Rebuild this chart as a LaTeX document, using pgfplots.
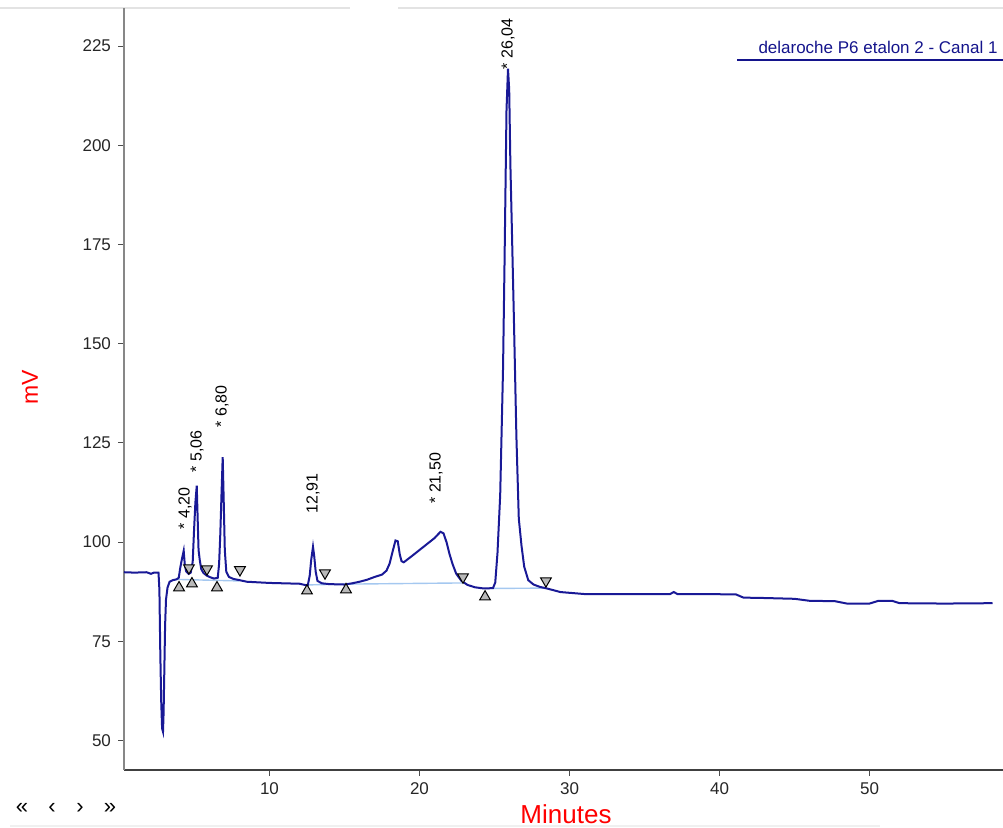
\documentclass[border=0pt]{standalone}
\usepackage{pgfplots}
\pgfplotsset{compat=1.18}
\usepackage{fontspec}
\setmainfont{Liberation Sans}

\definecolor{trace}{RGB}{25,25,150}
\definecolor{basel}{RGB}{165,200,240}
\definecolor{legblue}{RGB}{20,20,140}
\definecolor{axgray}{RGB}{135,135,135}
\newcommand{\lbl}{\fontsize{8}{9}\selectfont}

\begin{document}
\begin{tikzpicture}
\path[use as bounding box] (0,0) rectangle (501.5pt,414pt);
\draw[gray!22, line width=1pt] (0,410pt) -- (175pt,410pt) (199pt,410pt) -- (501.5pt,410pt);
\draw[gray!12, line width=1pt] (5pt,1pt) -- (440pt,1pt);

\begin{axis}[
    at={(62pt,29pt)}, anchor=south west,
    scale only axis, width=439.5pt, height=381pt,
    xmin=0.3, xmax=58.9, ymin=42.56, ymax=234.6,
    axis x line*=bottom, axis y line*=left,
    x axis line style={black!75, line width=0.6pt},
    y axis line style={axgray, line width=0.6pt},
    xtick={10,20,30,40,50},
    ytick={50,75,100,125,150,175,200,225},
    tick align=outside, major tick length=3pt,
    tick style={black!70, line width=0.5pt},
    tick label style={font=\fontsize{8.5}{10}\selectfont, text=black!85},
    /pgf/number format/assume math mode=true,
    clip=false]

% integration baselines
\addplot[basel, line width=0.7pt] coordinates {(3.7,90.6) (8.0,90.2)};
\addplot[basel, line width=0.7pt] coordinates {(12.5,89.2) (15.1,89.4) (22.9,89.7)};
\addplot[basel, line width=0.7pt] coordinates {(24.4,88.3) (28.4,88.4)};

% chromatogram
\addplot[trace, line width=1pt] coordinates {
(0.3,92.4) (1.0,92.3) (1.8,92.4) (2.1,92.0) (2.3,92.3) (2.6,92.3)
(2.66,88.0) (2.72,72.0) (2.78,60.0) (2.84,53.0) (2.9,52.2) (2.94,57.0)
(2.99,68.0) (3.04,79.0) (3.1,85.5) (3.2,88.5) (3.34,90.0) (3.55,90.4)
(3.8,90.6) (3.95,91.0) (4.05,93.5) (4.15,95.5) (4.28,97.8) (4.36,94.0)
(4.45,92.6) (4.6,92.0) (4.75,92.3) (4.88,95.0) (4.97,103.0) (5.06,110.0)
(5.15,114.2) (5.21,106.0) (5.27,98.0) (5.35,95.5) (5.45,93.2) (5.6,92.2)
(5.8,91.6) (6.0,91.2) (6.3,90.8) (6.55,91.0) (6.64,94.5) (6.72,102.0)
(6.8,112.0) (6.88,121.4) (6.95,110.0) (7.02,98.0) (7.12,92.5) (7.3,91.2)
(7.6,90.7) (8.0,90.4) (8.5,90.0) (9.0,89.9) (10.0,89.7) (11.0,89.6)
(12.0,89.5) (12.35,89.2) (12.55,89.1) (12.68,91.5) (12.78,95.5) (12.9,98.8)
(12.98,96.5) (13.08,92.5) (13.2,90.2) (13.5,89.6) (14.0,89.4) (15.0,89.3)
(15.5,89.6) (16.0,90.0) (16.5,90.5) (17.0,91.2) (17.5,91.8) (17.8,92.8)
(18.0,94.5) (18.2,97.5) (18.4,100.4) (18.55,100.2) (18.68,97.0) (18.8,95.2)
(18.95,94.9) (19.5,96.5) (20.0,98.0) (20.5,99.5) (21.0,101.0) (21.4,102.6)
(21.6,102.2) (21.8,100.0) (22.0,97.0) (22.2,94.5) (22.45,92.0) (22.8,90.2)
(23.2,89.2) (23.7,88.6) (24.3,88.3) (24.9,88.4) (25.05,89.8) (25.2,97.3)
(25.38,111.9) (25.57,143.9) (25.67,170.7) (25.8,208.8) (25.9,219.3) (25.98,214.0)
(26.06,195.0) (26.15,180.3) (26.3,155.1) (26.46,126.6) (26.62,105.9) (26.8,99.1)
(26.98,93.8) (27.25,90.4) (27.6,89.3) (28.03,88.7) (28.5,88.3) (29.4,87.4)
(31.0,86.9) (33.0,86.9) (35.0,86.9) (36.7,86.9) (36.95,87.4) (37.2,86.9)
(39.0,86.9) (41.1,86.8) (41.6,86.0) (43.0,85.9) (45.0,85.7) (46.0,85.2)
(47.7,85.1) (48.5,84.5) (50.0,84.5) (50.6,85.2) (51.5,85.2) (52.0,84.6)
(55.0,84.5) (58.2,84.6)
};

% peak start / end markers
\addplot[only marks, mark=triangle*, mark size=3.1pt,
    mark options={fill=gray!55, draw=black, line width=0.5pt}]
    coordinates {(3.97,88.5) (4.83,89.5) (6.5,88.5) (12.5,87.7) (15.1,88.0) (24.37,86.2)};
\addplot[only marks, mark=triangle*, mark size=3.1pt,
    mark options={rotate=180, fill=gray!55, draw=black, line width=0.5pt}]
    coordinates {(4.63,93.5) (5.83,93.2) (8.03,93.0) (13.7,92.2) (22.9,91.2) (28.43,90.2)};

% peak labels
\node[rotate=90, anchor=west, font=\lbl, inner sep=1pt] at (axis cs:4.37,102.6) {* 4,20};
\node[rotate=90, anchor=west, font=\lbl, inner sep=1pt] at (axis cs:5.17,117.0) {* 5,06};
\node[rotate=90, anchor=west, font=\lbl, inner sep=1pt] at (axis cs:6.83,128.3) {* 6,80};
\node[rotate=90, anchor=west, font=\lbl, inner sep=1pt] at (axis cs:12.9,106.6) {12,91};
\node[rotate=90, anchor=west, font=\lbl, inner sep=1pt] at (axis cs:21.1,109.1) {* 21,50};
\node[rotate=90, anchor=west, font=\lbl, inner sep=1pt] at (axis cs:25.9,218.6) {* 26,04};
\end{axis}

% legend
\node[anchor=base east, font=\fontsize{8.5}{10}\selectfont, text=legblue, inner sep=0pt]
    at (499pt,387pt) {delaroche P6 etalon 2 - Canal 1};
\draw[legblue, line width=0.7pt] (368.5pt,384pt) -- (501.5pt,384pt);

% axis titles
\node[rotate=90, text=red, font=\fontsize{11.5}{12}\selectfont] at (15pt,220.5pt) {mV};
\node[text=red, font=\fontsize{13}{14}\selectfont] at (283pt,7pt) {Minutes};

% navigation arrows
\node[font=\fontsize{11}{12}\selectfont] at (11pt,10pt) {«};
\node[font=\fontsize{11}{12}\selectfont] at (26pt,10pt) {‹};
\node[font=\fontsize{11}{12}\selectfont] at (40pt,10pt) {›};
\node[font=\fontsize{11}{12}\selectfont] at (55pt,10pt) {»};
\end{tikzpicture}
\end{document}
